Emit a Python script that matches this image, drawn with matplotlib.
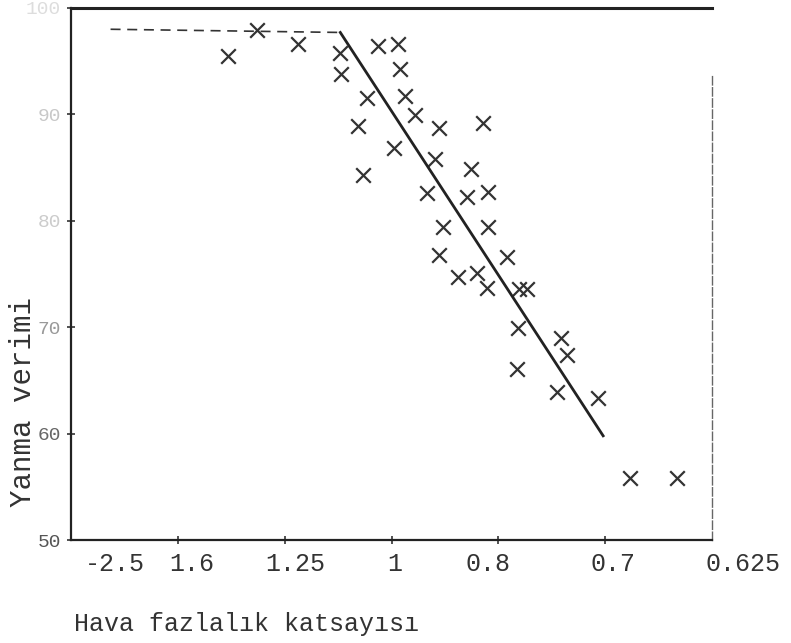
import numpy as np
import matplotlib.pyplot as plt
from matplotlib import transforms

plt.rcParams['font.family'] = ['Liberation Mono', 'DejaVu Sans Mono']

# tick labels on the bottom axis (printed, not evenly placed under the marks)
x_labels = ['-2.5', '1.6', '1.25', '1', '0.8', '0.7', '0.625']
x_label_pos = [0.41, 1.13, 2.10, 3.03, 3.90, 5.07, 6.29]
x_tick_marks = [1, 2, 3, 4, 5]

y_ticks = [50, 60, 70, 80, 90, 100]
y_tick_colors = ['#555555', '#666666', '#999999', '#cccccc', '#c8c8c8', '#dddddd']

# measured points (position along the axis, efficiency %)
px = [1.47, 1.74, 2.12, 2.52, 2.53, 2.87, 3.06, 3.08, 2.77, 2.69,
      3.02, 2.73, 3.13, 3.22, 3.44, 3.86, 3.41, 3.74, 3.33, 3.71,
      3.90, 3.48, 3.90, 3.44, 4.08, 3.62, 3.80, 3.89, 4.19, 4.27,
      4.18, 4.59, 4.64, 4.17, 4.55, 4.93, 5.23, 5.67]
py = [95.5, 97.9, 96.6, 95.8, 93.8, 96.4, 96.6, 94.3, 91.5, 88.9,
      86.8, 84.3, 91.7, 89.9, 88.7, 89.2, 85.8, 84.9, 82.6, 82.2,
      82.7, 79.4, 79.4, 76.8, 76.6, 74.7, 75.1, 73.7, 73.6, 73.6,
      69.9, 69.0, 67.4, 66.1, 63.9, 63.4, 55.8, 55.8]

# fitted lines
flat_x = [0.37, 2.52]
flat_y = [98.0, 97.7]
fall_x = [2.52, 4.98]
fall_y = [97.7, 59.8]

fig = plt.figure(figsize=(7.91, 6.43), dpi=100)
ax = fig.add_axes([0.0898, 0.160, 0.8105, 0.8276])

ax.plot(flat_x, flat_y, color='#333333', lw=1.2, ls=(0, (6, 4)))
ax.plot(fall_x, fall_y, color='#222222', lw=2.0)
ax.scatter(px, py, marker='x', s=110, color='#333333', linewidths=1.6)

ax.set_xlim(0, 6)
ax.set_ylim(50, 100)

ax.set_xticks(x_tick_marks)
ax.set_xticklabels([''] * len(x_tick_marks))
ax.tick_params(axis='x', direction='inout', length=6, width=1.2, color='#333333')

trans = transforms.blended_transform_factory(ax.transData, ax.transAxes)
for pos, lab in zip(x_label_pos, x_labels):
    ax.text(pos, -0.022, lab, transform=trans, ha='center', va='top',
            fontsize=18, color='#333333', clip_on=False)

ax.set_yticks(y_ticks)
ax.set_yticklabels([str(v) for v in y_ticks], fontsize=14)
for lbl, c in zip(ax.get_yticklabels(), y_tick_colors):
    lbl.set_color(c)
ax.tick_params(axis='y', direction='inout', length=6, width=1.2, color='#333333', pad=4)

ax.set_ylabel('Yanma verimi', fontsize=21, color='#333333')
ax.yaxis.set_label_coords(-0.053, 0.26)
ax.set_xlabel('Hava fazlalık katsayısı', fontsize=18, color='#333333', ha='left')
ax.xaxis.set_label_coords(0.005, -0.135)

for side in ['left', 'bottom', 'top']:
    ax.spines[side].set_color('#222222')
    ax.spines[side].set_linewidth(1.6)
ax.spines['top'].set_linewidth(2.2)
ax.spines['right'].set_color('#666666')
ax.spines['right'].set_linewidth(1.0)
ax.spines['right'].set_linestyle((0, (6, 2)))
ax.spines['right'].set_bounds(50, 93.6)

fig.savefig('out.png', dpi=100)
